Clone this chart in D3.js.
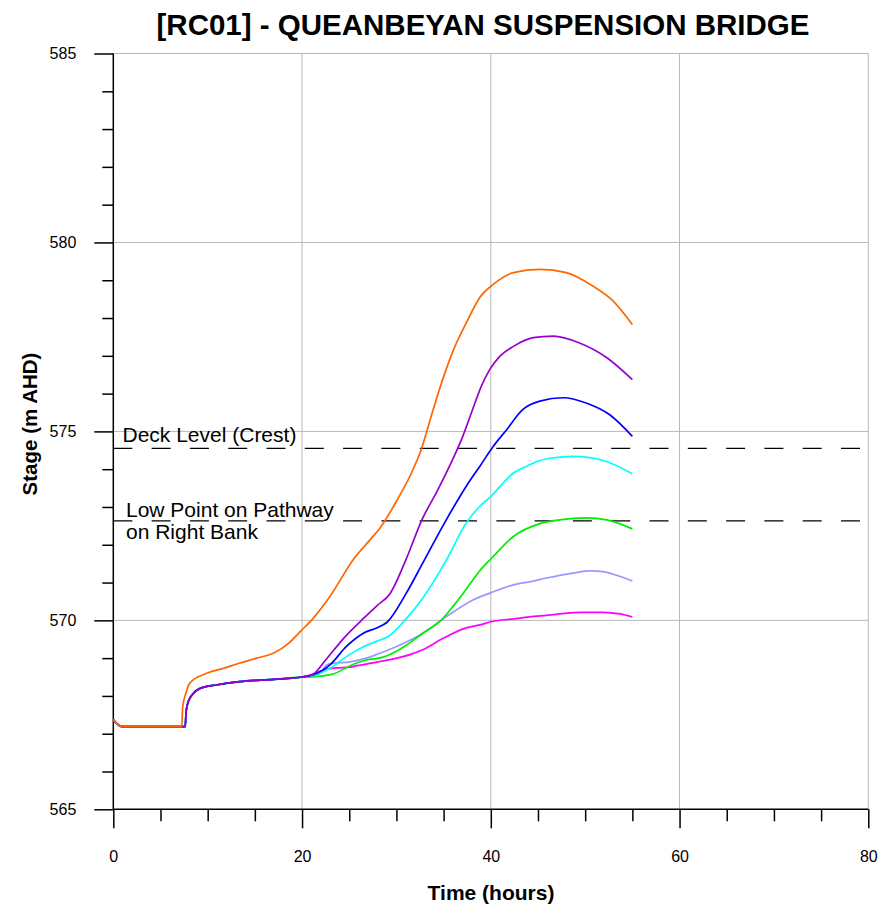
<!DOCTYPE html>
<html>
<head>
<meta charset="utf-8">
<script src="https://cdn.jsdelivr.net/npm/d3@7/dist/d3.min.js"></script>
<style>
  html, body { margin: 0; padding: 0; background: #fff; }
  svg { display: block; font-family: "Liberation Sans", Arial, sans-serif; }
</style>
</head>
<body>
<svg id="chart" width="881" height="914"></svg>
<script>
// Stage hydrographs at the Queanbeyan suspension bridge, one per event.
const chartTitle = "[RC01] - QUEANBEYAN SUSPENSION BRIDGE";
const xTicks = [0, 20, 40, 60, 80];
const yTicks = [565, 570, 575, 580, 585];

// Shared early part of the hydrograph (before the events diverge)
const sharedEarly = [
  [0, 567.37], [0.9, 567.19], [7.62, 567.19], [7.72, 567.6], [7.95, 567.85],
  [8.5, 568.07], [9.2, 568.2], [10.9, 568.29], [13.4, 568.38], [17.0, 568.44],
  [20.0, 568.5]
];

const orangeStage = [
  [0, 567.37], [0.9, 567.19], [7.25, 567.19], [7.35, 567.7], [7.7, 568.08],
  [8.1, 568.34], [9.9, 568.6], [11.65, 568.73], [13.4, 568.87], [15.2, 569.0],
  [16.95, 569.13], [18.7, 569.42], [19.8, 569.7], [21.2, 570.06], [22.95, 570.63],
  [25.4, 571.6], [27.2, 572.13], [28.25, 572.44], [30.2, 573.24], [31.4, 573.8],
  [32.6, 574.5], [33.8, 575.5], [35.0, 576.45], [36.2, 577.25], [37.4, 577.87],
  [38.85, 578.55], [40.25, 578.89], [42.4, 579.2], [45.2, 579.29], [48.0, 579.2],
  [50.85, 578.84], [52.97, 578.45], [55.0, 577.83]
];

const purpleStage = [
  [21.2, 568.58], [22.5, 568.95], [24.5, 569.55], [26.5, 570.05], [28.0, 570.4],
  [29.3, 570.7], [31.0, 571.6], [32.7, 572.66], [34.4, 573.46], [35.85, 574.2],
  [37.0, 574.85], [38.1, 575.6], [39.0, 576.2], [39.9, 576.64], [41.0, 577.0],
  [42.4, 577.25], [44.5, 577.48], [46.6, 577.52], [49.4, 577.34], [52.3, 576.95],
  [55.0, 576.37]
];

const blueStage = [
  [21.2, 568.56], [22.95, 568.82], [24.7, 569.31], [26.5, 569.66], [27.9, 569.8],
  [29.0, 569.95], [31.0, 570.7], [32.8, 571.52], [35.1, 572.58], [37.4, 573.55],
  [38.9, 574.1], [40.25, 574.6], [41.7, 575.05], [43.4, 575.58], [45.2, 575.8],
  [47.7, 575.89], [50.1, 575.75], [52.6, 575.44], [55.0, 574.87]
];

const cyanStage = [
  [21.5, 568.56], [22.95, 568.73], [24.7, 569.04], [26.5, 569.3], [28.25, 569.48],
  [29.0, 569.55], [31.1, 570.06], [32.8, 570.59], [35.3, 571.6], [37.4, 572.58],
  [38.85, 573.02], [40.1, 573.3], [41.0, 573.55], [42.4, 573.9], [43.8, 574.08],
  [45.2, 574.23], [46.6, 574.3], [48.7, 574.34], [51.9, 574.23], [55.0, 573.88]
];

const greenStage = [
  [20.8, 568.5], [22.2, 568.53], [23.3, 568.58], [25.1, 568.8], [26.8, 568.95],
  [28.5, 569.02], [31.1, 569.35], [32.8, 569.66], [34.6, 569.97], [36.0, 570.37],
  [36.7, 570.59], [38.1, 571.07], [38.85, 571.32], [40.1, 571.65], [42.4, 572.22],
  [45.2, 572.56], [47.3, 572.66], [50.1, 572.71], [52.3, 572.66], [55.0, 572.42]
];

const lavenderStage = [
  [21.9, 568.6], [22.6, 568.82], [23.3, 568.86], [25.1, 568.9], [26.8, 569.0],
  [28.25, 569.13], [29.0, 569.2], [31.0, 569.42], [32.8, 569.66], [35.3, 570.1],
  [38.1, 570.54], [39.9, 570.72], [42.4, 570.94], [44.1, 571.02], [45.9, 571.12],
  [48.7, 571.25], [50.5, 571.31], [51.9, 571.29], [53.7, 571.16], [55.0, 571.04]
];

const magentaStage = [
  [21.0, 568.56], [21.9, 568.65], [22.6, 568.71], [23.7, 568.74], [25.1, 568.76],
  [25.8, 568.8], [26.8, 568.84], [28.25, 568.91], [30.7, 569.04], [31.5, 569.1],
  [32.8, 569.22], [35.0, 569.53], [37.4, 569.8], [38.85, 569.88], [40.1, 569.97],
  [42.4, 570.04], [44.1, 570.09], [45.9, 570.13], [49.4, 570.21], [51.9, 570.21],
  [53.7, 570.17], [55.0, 570.09]
];

// Reference levels drawn as dashed lines
const referenceLevels = [
  { label: ["Deck Level (Crest)"], value: 574.55 },
  { label: ["Low Point on Pathway", "on Right Bank"], value: 572.63 }
];

const series = [
  { color: "#ff00ff", points: sharedEarly.concat(magentaStage) },
  { color: "#9999ff", points: sharedEarly.concat(lavenderStage) },
  { color: "#00ee00", points: sharedEarly.concat(greenStage) },
  { color: "#00ffff", points: sharedEarly.concat(cyanStage) },
  { color: "#0000ff", points: sharedEarly.concat(blueStage) },
  { color: "#9900cc", points: sharedEarly.concat(purpleStage) },
  { color: "#ff6600", points: orangeStage }
];

const svg = d3.select("#chart");
const plotLeft = 113.3, plotRight = 868.3, plotTop = 53.5, plotBottom = 809.3;

const x = d3.scaleLinear().domain([0, 80]).range([plotLeft, plotRight]);
const y = d3.scaleLinear().domain([565, 585]).range([plotBottom, plotTop]);

// Grid
const grid = svg.append("g").attr("stroke", "#b8b8b8").attr("stroke-width", 1);
grid.selectAll("line.v").data(xTicks.slice(1)).join("line")
  .attr("class", "v")
  .attr("x1", d => x(d)).attr("x2", d => x(d))
  .attr("y1", y(585)).attr("y2", y(565));
grid.selectAll("line.h").data(yTicks.slice(1)).join("line")
  .attr("class", "h")
  .attr("x1", x(0)).attr("x2", x(80))
  .attr("y1", d => y(d)).attr("y2", d => y(d));

// Axes
const xMinor = d3.range(0, 81, 5).filter(v => v % 20 !== 0);
const yMinor = d3.range(565, 586, 1).filter(v => v % 5 !== 0);

const xAxisMajor = d3.axisBottom(x).tickValues(xTicks).tickSize(19).tickPadding(22)
  .tickFormat(d3.format("d"));
const xAxisMinor = d3.axisBottom(x).tickValues(xMinor).tickSize(12).tickFormat("");
const yAxisMajor = d3.axisLeft(y).tickValues(yTicks).tickSize(19).tickPadding(18)
  .tickFormat(d3.format("d"));
const yAxisMinor = d3.axisLeft(y).tickValues(yMinor).tickSize(11).tickFormat("");

function styleAxis(g) {
  g.select(".domain").remove();
  g.selectAll("line").attr("stroke", "#000").attr("stroke-width", 1.5);
  g.selectAll("text").attr("fill", "#000").style("font-size", "16px")
    .style("font-family", "'Liberation Sans', Arial, sans-serif");
}

svg.append("g").attr("transform", `translate(0,${plotBottom})`).call(xAxisMinor).call(styleAxis);
svg.append("g").attr("transform", `translate(0,${plotBottom})`).call(xAxisMajor).call(styleAxis);
svg.append("g").attr("transform", `translate(${plotLeft},0)`).call(yAxisMinor).call(styleAxis);
svg.append("g").attr("transform", `translate(${plotLeft},0)`).call(yAxisMajor).call(styleAxis);

// Axis lines
svg.append("line").attr("x1", plotLeft).attr("x2", plotRight).attr("y1", plotBottom).attr("y2", plotBottom)
  .attr("stroke", "#000").attr("stroke-width", 1.5);
svg.append("line").attr("x1", plotLeft).attr("x2", plotLeft).attr("y1", plotTop).attr("y2", plotBottom)
  .attr("stroke", "#000").attr("stroke-width", 1.5);

// Reference levels
const refs = svg.append("g");
refs.selectAll("line").data(referenceLevels).join("line")
  .attr("x1", x(0)).attr("x2", x(80))
  .attr("y1", d => y(d.value)).attr("y2", d => y(d.value))
  .attr("stroke", "#000").attr("stroke-width", 1.3)
  .attr("stroke-dasharray", "19,19.3");

refs.append("text").attr("x", 122.5).attr("y", y(referenceLevels[0].value) - 6)
  .style("font-size", "21px").attr("fill", "#000")
  .text(referenceLevels[0].label[0]);
const lowLabel = refs.append("text").attr("x", 126).attr("y", y(referenceLevels[1].value) - 4)
  .style("font-size", "21px").attr("fill", "#000");
referenceLevels[1].label.forEach((t, i) => {
  lowLabel.append("tspan").attr("x", 126).attr("dy", i === 0 ? 0 : 22).text(t);
});

// Hydrograph lines
const line = d3.line()
  .x(d => x(d[0]))
  .y(d => y(d[1]))
  .curve(d3.curveMonotoneX);

svg.append("g").selectAll("path").data(series).join("path")
  .attr("d", d => line(d.points))
  .attr("fill", "none")
  .attr("stroke", d => d.color)
  .attr("stroke-width", 1.7)
  .attr("stroke-linejoin", "round");

// Titles
svg.append("text").attr("x", 483).attr("y", 35).attr("text-anchor", "middle")
  .style("font-size", "29.5px").style("font-weight", "bold").attr("fill", "#000")
  .text(chartTitle);

svg.append("text").attr("x", 491).attr("y", 900).attr("text-anchor", "middle")
  .style("font-size", "21px").style("font-weight", "bold").attr("fill", "#000")
  .text("Time (hours)");

svg.append("text").attr("transform", `translate(37,424) rotate(-90)`)
  .attr("text-anchor", "middle")
  .style("font-size", "20.5px").style("font-weight", "bold").attr("fill", "#000")
  .text("Stage (m AHD)");
</script>
</body>
</html>
